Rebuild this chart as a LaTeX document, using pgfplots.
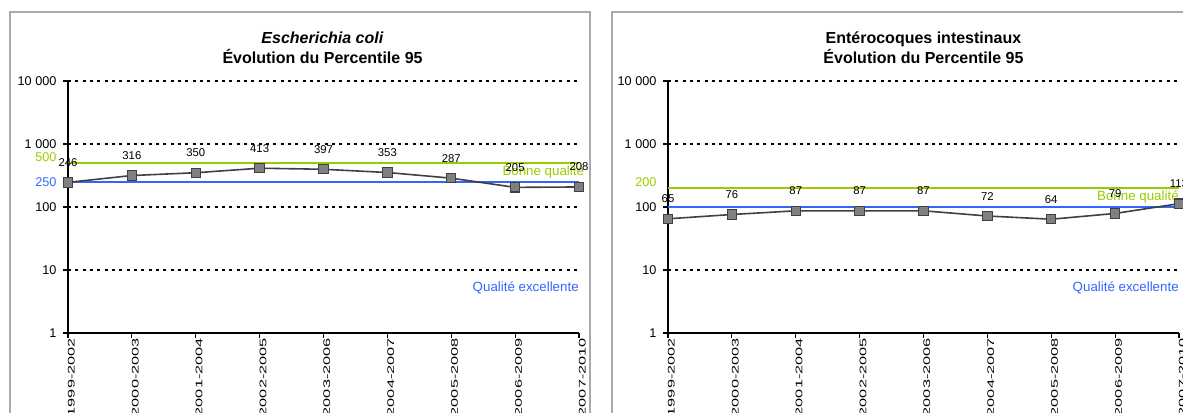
\documentclass[border=0pt]{standalone}
\usepackage{pgfplots}
\pgfplotsset{compat=1.18}
\usepackage{pgfplotstable}
\usepackage{fontspec}
\setmainfont{Liberation Sans}

\definecolor{seuilvert}{RGB}{153,204,0}
\definecolor{seuilbleu}{RGB}{51,102,255}
\definecolor{gristrait}{RGB}{64,64,64}
\definecolor{grismarque}{RGB}{128,128,128}
\definecolor{griscadre}{RGB}{170,170,170}

% percentile 95, par periode (indice 0..8)
\pgfplotstableread{
x y
0 246
1 316
2 350
3 413
4 397
5 353
6 287
7 205
8 208
}\ecoli
\pgfplotstableread{
x y
0 65
1 76
2 87
3 87
4 87
5 72
6 64
7 79
8 113
}\entero

% ymode=log reste dans chaque axe (pas dans le style)
\pgfplotsset{
  every axis/.append style={
    scale only axis, width=383.25pt, height=189pt,
    ymin=1, ymax=10000,
    xmin=0, xmax=8, clip=false,
    axis x line*=bottom, axis y line*=left,
    axis line style={black, line width=1pt},
    tick align=outside, major tick length=3.5pt,
    tick style={black, line width=0.8pt},
    yminorticks=false,
    ytick={1,10,100,1000,10000},
    yticklabels={1,10,100,{1 000},{10 000}},
    ymajorgrids,
    major grid style={black, line width=2.2pt, dash pattern=on 2.2pt off 3.3pt},
    xtick={0,...,8},
    xticklabels={1999-2002,2000-2003,2001-2004,2002-2005,2003-2006,2004-2007,2005-2008,2006-2009,2007-2010},
    yticklabel style={font=\fontsize{9.5}{11}\selectfont, inner sep=0pt, xshift=-5pt},
    xticklabel style={font=\fontsize{7.2}{8}\selectfont, rotate=90, anchor=east, xscale=1.7, inner sep=0pt, yshift=-2.5pt},
  },
  /pgf/number format/assume math mode=true,
  courbe/.style={
    color=gristrait, line width=1.2pt, mark=square*, mark size=3.5pt,
    mark options={fill=grismarque, draw=gristrait, line width=0.8pt},
    point meta=rawy, nodes near coords,
    every node near coord/.append style={font=\fontsize{8.5}{10}\selectfont, text=black, anchor=south, inner sep=0pt, yshift=11.5pt},
  },
}

\begin{document}
\begin{tikzpicture}
\path[use as bounding box] (0,0) rectangle (887.25pt,309pt);
\clip (0,0) rectangle (887.25pt,309pt);
\draw[griscadre, line width=1.1pt] (7.5pt,-10pt) rectangle (442.5pt,300pt);
\draw[griscadre, line width=1.1pt] (459pt,-10pt) rectangle (900pt,300pt);

\begin{axis}[ymode=log, at={(51pt,59.25pt)}, anchor=south west]
\addplot[seuilvert, line width=1.4pt, forget plot] coordinates {(0,500) (8,500)};
\addplot[seuilbleu, line width=1.4pt, forget plot] coordinates {(0,250) (8,250)};
\addplot[courbe] table[x=x, y=y] {\ecoli};
\node[anchor=east, text=seuilvert, font=\fontsize{9.5}{11}\selectfont, inner sep=0pt, xshift=-8.5pt] at (axis cs:0,620) {500};
\node[anchor=east, text=seuilbleu, font=\fontsize{9.5}{11}\selectfont, inner sep=0pt, xshift=-8.5pt] at (axis cs:0,250) {250};
\node[anchor=east, text=seuilvert, font=\fontsize{10}{12}\selectfont, inner sep=0pt, xshift=4pt] at (axis cs:8,360) {Bonne qualité};
\node[anchor=east, text=seuilbleu, font=\fontsize{10}{12}\selectfont, inner sep=0pt] at (axis cs:8,5.2) {Qualité excellente};
\end{axis}

\begin{axis}[ymode=log, at={(501pt,59.25pt)}, anchor=south west]
\addplot[seuilvert, line width=1.4pt, forget plot] coordinates {(0,200) (8,200)};
\addplot[seuilbleu, line width=1.4pt, forget plot] coordinates {(0,100) (8,100)};
\addplot[courbe] table[x=x, y=y] {\entero};
\node[anchor=east, text=seuilvert, font=\fontsize{9.5}{11}\selectfont, inner sep=0pt, xshift=-8.5pt] at (axis cs:0,250) {200};
\node[anchor=east, text=seuilvert, font=\fontsize{10}{12}\selectfont, inner sep=0pt] at (axis cs:8,144) {Bonne qualité};
\node[anchor=east, text=seuilbleu, font=\fontsize{10}{12}\selectfont, inner sep=0pt] at (axis cs:8,5.2) {Qualité excellente};
\end{axis}

\node[align=center, font=\fontsize{12}{15}\selectfont\bfseries] at (241.9pt,273pt) {\textit{Escherichia coli}\\Évolution du Percentile 95};
\node[align=center, font=\fontsize{12}{15}\selectfont\bfseries] at (692.6pt,273pt) {Entérocoques intestinaux\\Évolution du Percentile 95};
\end{tikzpicture}
\end{document}
